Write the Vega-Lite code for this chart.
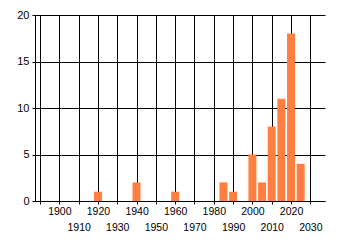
{
  "$schema": "https://vega.github.io/schema/vega-lite/v6.json",
  "autosize": "none",
  "width": 290,
  "height": 186,
  "padding": {"left": 35, "top": 15, "right": 15, "bottom": 44},
  "background": "white",
  "config": {
    "view": {"stroke": null},
    "axis": {
      "grid": true,
      "gridColor": "black",
      "gridOpacity": 1,
      "gridWidth": 1,
      "domainColor": "black",
      "domainWidth": 1,
      "tickColor": "black",
      "tickSize": 3,
      "tickWidth": 1,
      "labelColor": "black",
      "labelFont": "Liberation Sans",
      "labelFlush": false,
      "labelOverlap": false,
      "labelBound": false,
      "title": null
    }
  },
  "data": {
    "values": [
      {"year": 1920, "count": 1},
      {"year": 1940, "count": 2},
      {"year": 1960, "count": 1},
      {"year": 1985, "count": 2},
      {"year": 1990, "count": 1},
      {"year": 2000, "count": 5},
      {"year": 2005, "count": 2},
      {"year": 2010, "count": 8},
      {"year": 2015, "count": 11},
      {"year": 2020, "count": 18},
      {"year": 2025, "count": 4}
    ]
  },
  "mark": {"type": "bar", "orient": "vertical", "size": 8, "color": "#ff7f40"},
  "encoding": {
    "x": {
      "field": "year",
      "type": "quantitative",
      "scale": {"domain": [1890, 2035], "nice": false, "zero": false},
      "axis": {
        "values": [1890, 1900, 1910, 1920, 1930, 1940, 1950, 1960, 1970, 1980, 1990, 2000, 2010, 2020, 2030],
        "format": "d",
        "labelExpr": "datum.value == 1890 ? '' : datum.label",
        "labelFontSize": 10.5,
        "labelPadding": {"condition": {"test": "datum.value % 20 == 0", "value": 2.7}, "value": 18.7}
      }
    },
    "y": {
      "field": "count",
      "type": "quantitative",
      "scale": {"domain": [0, 20], "nice": false},
      "axis": {
        "values": [0, 5, 10, 15, 20],
        "labelFontSize": 11,
        "labelPadding": 3
      }
    }
  }
}
